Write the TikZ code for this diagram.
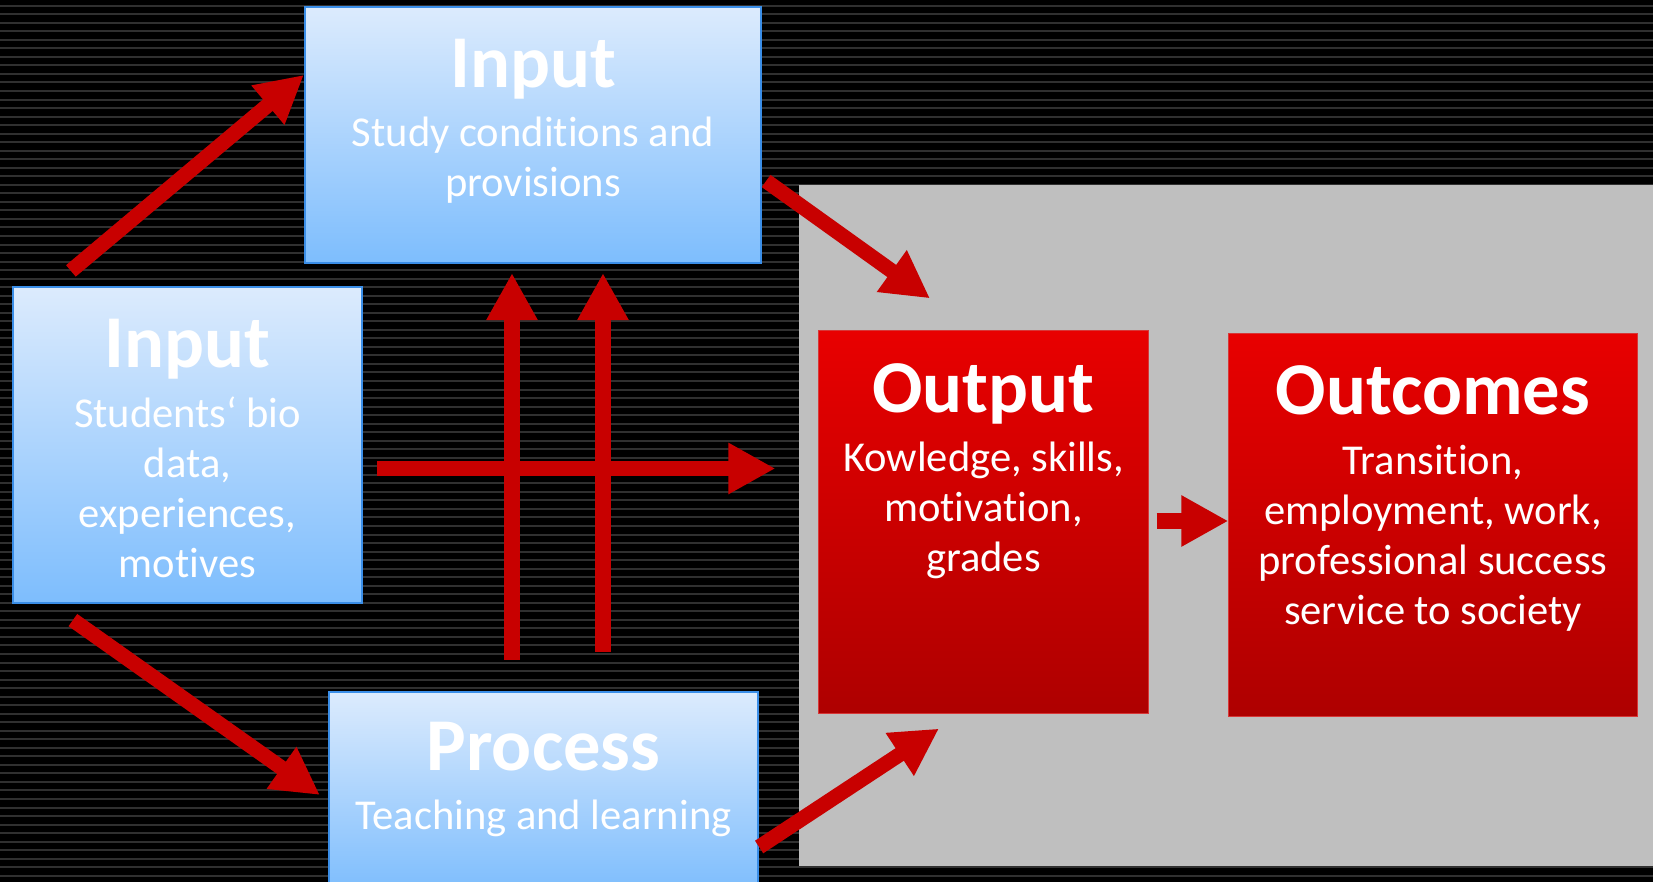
\documentclass[tikz,border=0pt]{standalone}
\usepackage{fontspec}
\setmainfont{Carlito}[Ligatures=NoCommon]
\usetikzlibrary{arrows.meta,calc}
\definecolor{bluetop}{RGB}{220,235,253}
\definecolor{bluebot}{RGB}{125,189,253}
\definecolor{blueline}{RGB}{58,142,232}
\definecolor{redtop}{RGB}{232,0,0}
\definecolor{redbot}{RGB}{174,0,0}
\definecolor{redline}{RGB}{215,55,55}
\definecolor{arrred}{RGB}{200,0,0}
\definecolor{panelgray}{RGB}{191,191,191}
\definecolor{stripe}{RGB}{48,48,48}
\begin{document}
\begin{tikzpicture}[x=0.01cm,y=-0.01cm,
	bluebox/.style={draw=blueline,line width=0.02cm,top color=bluetop,bottom color=bluebot,inner sep=0pt},
	redbox/.style={draw=redline,line width=0.01cm,top color=redtop,bottom color=redbot,inner sep=0pt},
	ttl/.style={anchor=base,text=white,inner sep=0pt,font=\bfseries\fontsize{21.2}{26}\selectfont},
	txt/.style={anchor=base,text=white,inner sep=0pt,align=center,font=\fontsize{12.1}{14.23}\selectfont},
	arr/.style={draw=arrred,line width=0.15cm,-{Triangle[width=0.48cm,length=0.47cm]}}]
	\useasboundingbox (0,0) rectangle (1653,882);
	\clip (0,0) rectangle (1653,882);
	\fill [black] (0,0) rectangle (1653,882);
	\foreach \k in {0,...,103}
		\fill [stripe] (0,{4.7+8.53*\k}) rectangle (1653,{6.7+8.53*\k});
	\fill [panelgray] (799,185) rectangle (1660,866);
	\node [bluebox,minimum width=4.56cm,minimum height=2.56cm] (cond) at (533,135) {};
	\node [bluebox,minimum width=3.49cm,minimum height=3.16cm] (stud) at (187.5,445) {};
	\node [bluebox,minimum width=4.29cm,minimum height=2cm] (proc) at (543.5,792) {};
	\node [redbox,minimum width=3.29cm,minimum height=3.82cm] (out) at (983.5,522) {};
	\node [redbox,minimum width=4.08cm,minimum height=3.82cm] (outc) at (1433,525) {};
	\node [ttl] (cond-t) at (533,88) {Input};
	\node [txt] (cond-b) at (533,197) {Study conditions and\\provisions};
	\node [ttl] (stud-t) at (187.5,368) {Input};
	\node [txt] (stud-b) at (187.5,578) {Students‘ bio\\data,\\experiences,\\motives};
	\node [ttl] (proc-t) at (543.5,771) {Process};
	\node [txt] (proc-b) at (543.5,830) {Teaching and learning};
	\node [ttl] (out-t) at (983.5,413) {Output};
	\node [txt] (out-b) at (983.5,572) {Kowledge, skills,\\motivation,\\grades};
	\node [ttl] (outc-t) at (1433,415) {Outcomes};
	\node [txt] (outc-b) at (1433,625) {Transition,\\employment, work,\\professional success\\service to society};
	\draw [arr] ($(stud.north west)+(59,-15)$) -- ($(cond.north west)+(0,69)$);
	\draw [arr] ($(cond.east)+(4,46)$) -- ($(out.north)+(-53.5,-32)$);
	\draw [arr] ($(stud.east)+(14,23.5)$) -- ($(out.west)+(-43,-53.5)$);
	\draw [arr] ($(proc.north)+(-31.5,-31)$) -- ($(cond.south)+(-21,9)$);
	\draw [arr] ($(proc.north)+(59.5,-39)$) -- ($(cond.south)+(70,9)$);
	\draw [arr] ($(stud.south west)+(61,16)$) -- ($(proc.west)+(-8,3)$);
	\draw [arr] ($(proc.east)+(0,55)$) -- ($(out.south)+(-44.5,15)$);
	\draw [arr] ($(out.east)+(8,-1)$) -- ($(outc.west)+(0,-4)$);
\end{tikzpicture}
\end{document}
